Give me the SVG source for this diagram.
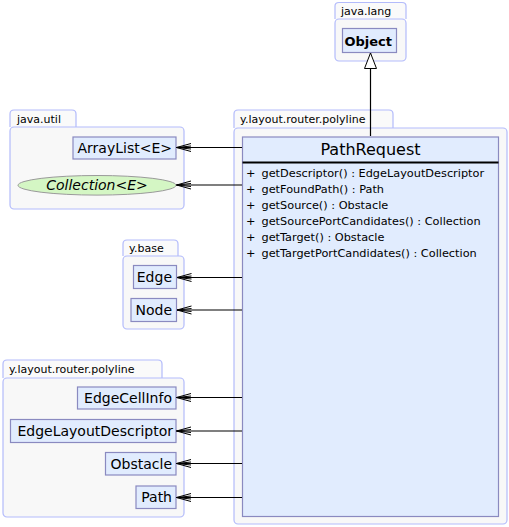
<svg xmlns="http://www.w3.org/2000/svg" width="509" height="527" viewBox="0 0 509 527">
<defs>
<style>
.pk{fill:#f8f8f8;stroke:#b3bbfb;stroke-width:1.2}
.tab{fill:#fafafa;stroke:#b3bbfb;stroke-width:1.2}
.pl{font-family:"DejaVu Sans",sans-serif;font-size:11px;fill:#000}
.nd{fill:#e1ecfe;stroke:#8a8ac0;stroke-width:1.2}
.nt{font-family:"DejaVu Sans",sans-serif;font-size:14px;fill:#000;text-anchor:end}
.mt{font-family:"DejaVu Sans",sans-serif;font-size:11.3px;fill:#000}
.e{stroke:#000;stroke-width:1.2;fill:none}
</style>
<marker id="open" viewBox="0 0 16 10" refX="15.5" refY="5" markerWidth="16" markerHeight="10" markerUnits="userSpaceOnUse" orient="auto">
<path d="M1,1 L15.5,5 L1,9 M1,3.5 L15.5,5 L1,6.5" fill="none" stroke="#000" stroke-width="1"/>
</marker>
<marker id="tri" viewBox="0 0 14 18" refX="7" refY="1" markerWidth="14" markerHeight="18" markerUnits="userSpaceOnUse" orient="0">
<path d="M7,1 L13,16.5 L1,16.5 Z" fill="#fff" stroke="#000" stroke-width="1"/>
</marker>
</defs>

<g id="pkg-java-lang">
<path class="tab" d="M335,19 V6 Q335,2.5 339,2.5 H402 Q406,2.5 406,6 V19"/>
<rect class="pk" x="335" y="19" width="71" height="42" rx="4"/>
<text class="pl" x="341" y="15">java.lang</text>
</g>
<g id="pkg-java-util">
<path class="tab" d="M10,127 V114 Q10,110 14,110 H72 Q76,110 76,114 V127"/>
<rect class="pk" x="10" y="127" width="174" height="82" rx="4"/>
<text class="pl" x="17" y="123">java.util</text>
</g>
<g id="pkg-y-base">
<path class="tab" d="M123,256 V244 Q123,240 127,240 H174 Q178,240 178,244 V256"/>
<rect class="pk" x="123" y="256" width="61" height="73" rx="4"/>
<text class="pl" x="129" y="252">y.base</text>
</g>
<g id="pkg-polyline-left">
<path class="tab" d="M3,378 V364 Q3,360 7,360 H158 Q162,360 162,364 V378"/>
<rect class="pk" x="3" y="378" width="181" height="139" rx="4"/>
<text class="pl" x="9" y="373">y.layout.router.polyline</text>
</g>
<g id="pkg-polyline-right">
<path class="tab" d="M234,128 V114 Q234,110 238,110 H389 Q393,110 393,114 V128"/>
<rect class="pk" x="234" y="128" width="273" height="396" rx="4"/>
<text class="pl" x="240" y="123">y.layout.router.polyline</text>
</g>

<g id="node-object">
<rect class="nd" x="342.5" y="28.5" width="54" height="24"/>
<text class="nt" x="392" y="45.5" style="font-weight:bold;font-size:13px">Object</text>
</g>
<g id="node-arraylist">
<rect class="nd" x="73" y="137" width="103" height="22"/>
<text class="nt" x="172" y="153">ArrayList&lt;E&gt;</text>
</g>
<g id="node-collection">
<ellipse cx="97" cy="185.3" rx="79" ry="9.8" fill="#d4f6c4" stroke="#9a9a9a" stroke-width="1"/>
<text x="97" y="190" style="font-family:'DejaVu Sans',sans-serif;font-size:14px;font-style:italic;text-anchor:middle">Collection&lt;E&gt;</text>
</g>
<g id="node-edge">
<rect class="nd" x="133.5" y="265.5" width="43" height="23"/>
<text class="nt" x="172" y="282">Edge</text>
</g>
<g id="node-node">
<rect class="nd" x="131" y="298.5" width="45.5" height="23"/>
<text class="nt" x="172" y="315">Node</text>
</g>
<g id="node-edgecellinfo">
<rect class="nd" x="77.5" y="387" width="98.5" height="22"/>
<text class="nt" x="172" y="403">EdgeCellInfo</text>
</g>
<g id="node-edgelayoutdescriptor">
<rect class="nd" x="10.5" y="419.5" width="165.5" height="23"/>
<text class="nt" x="173" y="436">EdgeLayoutDescriptor</text>
</g>
<g id="node-obstacle">
<rect class="nd" x="105.5" y="452.5" width="70.5" height="22.5"/>
<text class="nt" x="172" y="469">Obstacle</text>
</g>
<g id="node-path">
<rect class="nd" x="136" y="486" width="40" height="22.5"/>
<text class="nt" x="172" y="502">Path</text>
</g>
<g id="node-pathrequest">
<rect class="nd" x="242.5" y="137" width="256" height="379.5"/>
<line x1="242.5" y1="162.5" x2="498.5" y2="162.5" stroke="#000" stroke-width="2"/>
<text x="370.5" y="155" style="font-family:'DejaVu Sans',sans-serif;font-size:16px;text-anchor:middle">PathRequest</text>
<g class="mt">
<text x="246" y="177">+</text><text x="261.5" y="177">getDescriptor() : EdgeLayoutDescriptor</text>
<text x="246" y="193">+</text><text x="261.5" y="193">getFoundPath() : Path</text>
<text x="246" y="209">+</text><text x="261.5" y="209">getSource() : Obstacle</text>
<text x="246" y="225">+</text><text x="261.5" y="225">getSourcePortCandidates() : Collection</text>
<text x="246" y="241">+</text><text x="261.5" y="241">getTarget() : Obstacle</text>
<text x="246" y="257">+</text><text x="261.5" y="257">getTargetPortCandidates() : Collection</text>
</g>
</g>

<g id="connectors">
<line class="e" x1="370.5" y1="136" x2="370.5" y2="53" marker-end="url(#tri)"/>
<line class="e" x1="242" y1="147.5" x2="176.5" y2="147.5" marker-end="url(#open)"/>
<line class="e" x1="242" y1="185" x2="176.5" y2="185" marker-end="url(#open)"/>
<line class="e" x1="242" y1="277.5" x2="177" y2="277.5" marker-end="url(#open)"/>
<line class="e" x1="242" y1="310" x2="177" y2="310" marker-end="url(#open)"/>
<line class="e" x1="242" y1="397.5" x2="176.5" y2="397.5" marker-end="url(#open)"/>
<line class="e" x1="242" y1="431" x2="176.5" y2="431" marker-end="url(#open)"/>
<line class="e" x1="242" y1="463.5" x2="176.5" y2="463.5" marker-end="url(#open)"/>
<line class="e" x1="242" y1="497.5" x2="176.5" y2="497.5" marker-end="url(#open)"/>
</g>
</svg>
